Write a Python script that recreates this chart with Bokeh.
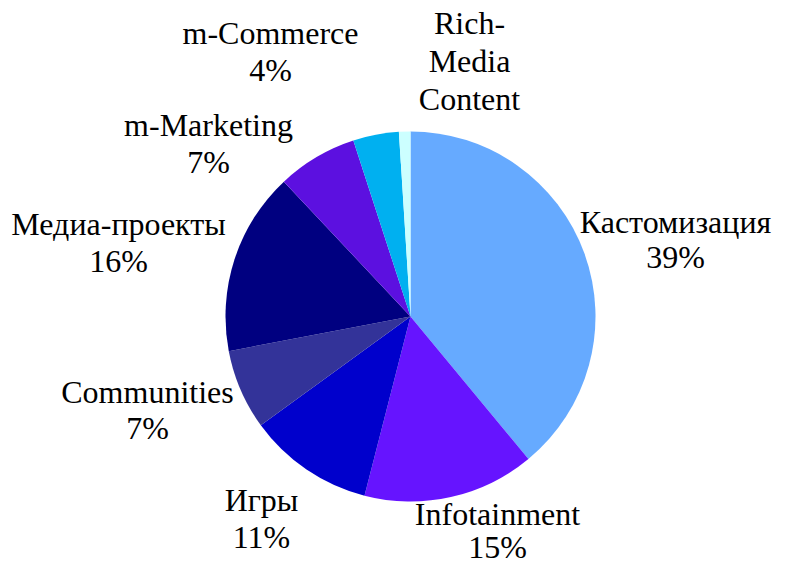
import math
from bokeh.plotting import figure
from bokeh.models import Range1d, ColumnDataSource
from bokeh.core.properties import value
from bokeh.embed import file_html
from bokeh.resources import INLINE

# ---- data ----
categories = ["Кастомизация", "Infotainment", "Игры", "Communities",
              "Медиа-проекты", "m-Marketing", "m-Commerce", "Rich-Media Content"]
shares = [39, 15, 11, 7, 16, 7, 4, 1]
label_texts = ["Кастомизация\n39%", "Infotainment\n15%", "Игры\n11%", "Communities\n7%",
               "Медиа-проекты\n16%", "m-Marketing\n7%", "m-Commerce\n4%", "Rich-\nMedia\nContent"]
colors = ["#66AAFF", "#6614FF", "#0000CC", "#333399",
          "#000080", "#5C10E0", "#00B0F0", "#CCFFFF"]

# ---- layout (picture pixels) ----
W, H = 772, 566
CX, CY, R = 410, 316, 185
# (center x, first-line y, line step)
label_anchor = [(675, 221, 35), (497, 513, 33), (261, 499, 37), (147, 391, 36),
                (118, 223, 37), (208, 124, 37), (270, 32, 37), (469, 22, 38)]
FONT = "Times New Roman"
FONT_SIZE = "32px"

def fy(py):
    return H - py

total = sum(shares)
starts, ends = [], []
cum = 0.0
for s in shares:
    a0 = math.pi / 2 - 2 * math.pi * cum / total
    cum += s
    a1 = math.pi / 2 - 2 * math.pi * cum / total
    starts.append(a0)
    ends.append(a1)

src = ColumnDataSource(dict(cat=categories, share=shares, start=starts, end=ends, color=colors))

p = figure(width=W, height=H, output_backend="svg", toolbar_location=None,
           x_range=Range1d(0, W), y_range=Range1d(0, H),
           min_border=0, border_fill_color="white", background_fill_color="white")
p.axis.visible = False
p.grid.visible = False
p.outline_line_color = None

p.wedge(x=CX, y=fy(CY), radius=R, radius_units="screen",
        start_angle="start", end_angle="end", direction="clock",
        fill_color="color", line_color=None, source=src)

lx, ly, lt = [], [], []
for txt, (ax, ay, step) in zip(label_texts, label_anchor):
    for i, line in enumerate(txt.split("\n")):
        lx.append(ax)
        ly.append(fy(ay + i * step))
        lt.append(line)

lsrc = ColumnDataSource(dict(x=lx, y=ly, t=lt))
p.text(x="x", y="y", text="t", source=lsrc, text_align="center", text_baseline="middle",
       text_font=value(FONT), text_font_size=FONT_SIZE, text_color="black")

open("out.html", "w").write(file_html(p, INLINE))
